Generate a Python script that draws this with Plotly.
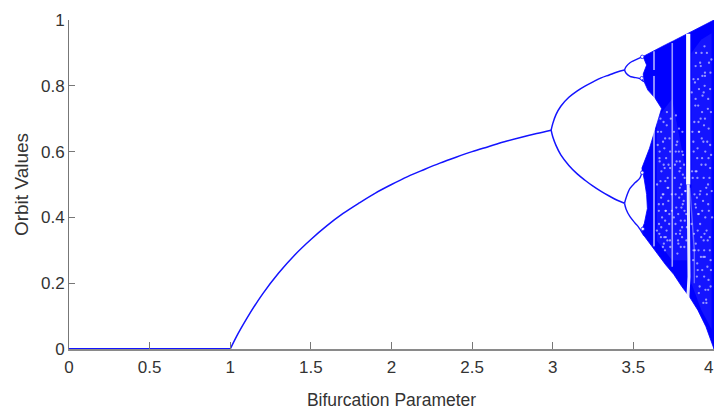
import plotly.graph_objects as go

# Stable branch
zero_r = [0, 0.25, 0.5, 0.75, 1.0]
zero_v = [0, 0, 0, 0, 0]
main_r = [1.0, 1.05, 1.1, 1.2, 1.3, 1.4, 1.5, 1.6, 1.7, 1.8, 1.9, 2.0, 2.1, 2.2, 2.3, 2.4, 2.5, 2.6, 2.7, 2.8, 2.9, 2.99]
main_v = [0.0, 0.048, 0.091, 0.167, 0.231, 0.286, 0.333, 0.375, 0.412, 0.444, 0.474, 0.5, 0.524, 0.545, 0.565, 0.583, 0.6, 0.615, 0.63, 0.643, 0.655, 0.665]

# Period-2 branches
p2_r = [2.99, 3.0, 3.02, 3.05, 3.1, 3.15, 3.2, 3.25, 3.3, 3.35, 3.4, 3.445]
p2_hi = [0.665, 0.685, 0.7125, 0.738, 0.765, 0.784, 0.799, 0.812, 0.824, 0.833, 0.842, 0.848]
p2_lo = [0.665, 0.645, 0.619, 0.59, 0.558, 0.533, 0.513, 0.495, 0.479, 0.465, 0.452, 0.443]

# Period-4 loops
p4a_r = [3.445, 3.455, 3.479, 3.5, 3.54, 3.56]
p4a_v = [0.848, 0.858, 0.87, 0.876, 0.885, 0.889]
p4b_r = [3.445, 3.455, 3.479, 3.5, 3.54, 3.565]
p4b_v = [0.848, 0.838, 0.829, 0.826, 0.822, 0.812]
p4c_r = [3.445, 3.455, 3.479, 3.51, 3.541, 3.56]
p4c_v = [0.443, 0.46, 0.488, 0.505, 0.52, 0.551]
p4d_r = [3.445, 3.455, 3.479, 3.51, 3.53, 3.565]
p4d_v = [0.443, 0.425, 0.402, 0.383, 0.372, 0.345]

# Small period-8 bubbles on the edge of the chaotic region
bubble_r = [3.555, 3.552, 3.555, 3.558]
bubble_v = [0.888, 0.823, 0.536, 0.365]

# Outline of the filled chaotic region
chaos_r = [3.56, 3.6, 3.65, 3.7, 3.75, 3.8, 3.85, 3.9, 3.95, 4.0, 4.0, 3.97, 3.95, 3.9, 3.85, 3.8, 3.75, 3.7, 3.65, 3.6, 3.565,
           3.552, 3.568, 3.587, 3.582, 3.568, 3.553, 3.6, 3.675, 3.634, 3.59, 3.567, 3.561, 3.582, 3.56]
chaos_v = [0.889, 0.9, 0.912, 0.925, 0.937, 0.95, 0.962, 0.975, 0.987, 1.0, 0.0, 0.04, 0.068, 0.118, 0.157, 0.19, 0.227, 0.256, 0.29, 0.324, 0.345,
           0.362, 0.382, 0.427, 0.47, 0.514, 0.55, 0.61, 0.731, 0.763, 0.787, 0.812, 0.836, 0.863, 0.889]

# Lighter, speckled areas
hazeA_r = [3.645, 3.74, 3.835, 3.835, 3.74, 3.645]
hazeA_v = [0.70, 0.76, 0.52, 0.27, 0.27, 0.33]
hazeB_r = [3.86, 3.92, 3.985, 3.985, 3.92, 3.86]
hazeB_v = [0.9, 0.94, 0.96, 0.06, 0.12, 0.2]

# White periodic windows
win1a_r = [3.628, 3.628]
win1a_v = [0.905, 0.848]
win1b_r = [3.628, 3.628]
win1b_v = [0.83, 0.312]
win2_r = [3.741, 3.741]
win2_v = [0.93, 0.25]
win3a_r = [3.84, 3.84]
win3a_v = [0.958, 0.5]
win3b_r = [3.84, 3.845, 3.845, 3.838]
win3b_v = [0.5, 0.35, 0.22, 0.157]
win3c_r = [3.85, 3.865, 3.878, 3.878]
win3c_v = [0.49, 0.39, 0.3, 0.2]

# Individual white specks
speck_r = [3.652, 3.663, 3.668, 3.684, 3.687, 3.703, 3.708, 3.724, 3.728, 3.764, 3.767, 3.783, 3.788, 3.803, 3.807, 3.823, 3.647, 3.674, 3.686, 3.713, 3.717,
           3.757, 3.784, 3.796, 3.817, 3.658, 3.684, 3.697, 3.723, 3.766, 3.794, 3.806, 3.832, 3.646, 3.673, 3.692, 3.706, 3.764, 3.777, 3.802, 3.816, 3.683, 3.696, 3.727,
           3.773, 3.794, 3.663, 3.694, 3.716, 3.763, 3.804, 3.672, 3.697, 3.786, 3.814,
           3.873, 3.884, 3.886, 3.904, 3.907, 3.924, 3.926, 3.944, 3.946, 3.964, 3.967, 3.984, 3.866, 3.896, 3.906, 3.936, 3.944, 3.976, 3.874, 3.897, 3.926, 3.934, 3.963,
           3.976, 3.864, 3.894, 3.916, 3.927, 3.956, 3.964, 3.884, 3.906, 3.914, 3.946, 3.954, 3.986, 3.876, 3.887, 3.904, 3.936, 3.943, 3.974, 3.873, 3.896, 3.927, 3.934,
           3.966, 3.974, 3.886, 3.914, 3.936, 3.944, 3.976, 3.894, 3.923, 3.947, 3.956, 3.906, 3.934, 3.953, 3.964, 3.886, 3.917, 3.966,
           3.651, 3.668, 3.672, 3.688, 3.692, 3.707, 3.712, 3.728, 3.732, 3.752, 3.768, 3.772, 3.788, 3.792, 3.808, 3.812, 3.828,
           3.658, 3.662, 3.678, 3.682, 3.698, 3.702, 3.718, 3.722, 3.738, 3.758, 3.762, 3.778, 3.782, 3.798, 3.802, 3.818, 3.822,
           3.659, 3.671, 3.699, 3.711, 3.739, 3.761, 3.789, 3.801, 3.829, 3.661, 3.689, 3.701, 3.729, 3.751, 3.779, 3.791, 3.819,
           3.862, 3.878, 3.882, 3.898, 3.902, 3.918, 3.922, 3.938, 3.942, 3.958, 3.962, 3.978, 3.982,
           3.868, 3.872, 3.888, 3.892, 3.908, 3.912, 3.928, 3.932, 3.948, 3.952, 3.968, 3.972, 3.988,
           3.861, 3.879, 3.881, 3.899, 3.901, 3.919, 3.921, 3.939, 3.941, 3.959, 3.961, 3.979, 3.981,
           3.871, 3.899, 3.911, 3.939, 3.951, 3.979, 3.889, 3.901, 3.929, 3.941, 3.969, 3.981]
speck_v = [0.66, 0.6, 0.7, 0.63, 0.69, 0.58, 0.72, 0.64, 0.55, 0.71, 0.62, 0.67, 0.57, 0.6, 0.53, 0.48, 0.5, 0.54, 0.47, 0.52, 0.45,
           0.52, 0.46, 0.5, 0.42, 0.42, 0.44, 0.39, 0.41, 0.43, 0.39, 0.44, 0.37, 0.36, 0.37, 0.34, 0.36, 0.35, 0.33, 0.37, 0.31, 0.31, 0.3, 0.33,
           0.29, 0.31, 0.57, 0.55, 0.49, 0.6, 0.66, 0.46, 0.64, 0.54, 0.56,
           0.82, 0.74, 0.86, 0.69, 0.79, 0.64, 0.72, 0.84, 0.6, 0.76, 0.67, 0.88, 0.66, 0.58, 0.66, 0.52, 0.7, 0.55, 0.6, 0.52, 0.58, 0.63, 0.5,
           0.62, 0.54, 0.46, 0.48, 0.42, 0.47, 0.44, 0.44, 0.41, 0.38, 0.4, 0.36, 0.48, 0.35, 0.32, 0.3, 0.33, 0.28, 0.34, 0.3, 0.26, 0.24, 0.28,
           0.21, 0.3, 0.76, 0.87, 0.78, 0.83, 0.79, 0.22, 0.9, 0.18, 0.9, 0.17, 0.14, 0.14, 0.18, 0.54, 0.7, 0.58,
           0.62, 0.51, 0.66, 0.56, 0.61, 0.68, 0.49, 0.6, 0.7, 0.66, 0.57, 0.63, 0.49, 0.55, 0.59, 0.45, 0.41,
           0.44, 0.58, 0.4, 0.47, 0.51, 0.42, 0.56, 0.38, 0.47, 0.56, 0.47, 0.41, 0.6, 0.43, 0.34, 0.52, 0.48,
           0.38, 0.34, 0.42, 0.33, 0.42, 0.38, 0.35, 0.47, 0.33, 0.35, 0.32, 0.34, 0.31, 0.4, 0.32, 0.36, 0.39,
           0.78, 0.69, 0.81, 0.61, 0.74, 0.86, 0.56, 0.68, 0.8, 0.63, 0.73, 0.84, 0.59,
           0.52, 0.63, 0.43, 0.54, 0.66, 0.47, 0.83, 0.45, 0.56, 0.49, 0.42, 0.52, 0.4,
           0.38, 0.47, 0.3, 0.36, 0.41, 0.28, 0.34, 0.3, 0.35, 0.25, 0.33, 0.27, 0.24,
           0.27, 0.24, 0.19, 0.22, 0.15, 0.19, 0.9, 0.82, 0.77, 0.92, 0.87, 0.72]

x_ticks = [0, 0.5, 1, 1.5, 2, 2.5, 3, 3.5, 4]
x_tick_labels = ["0", "0.5", "1", "1.5", "2", "2.5", "3", "3.5", ""]
last_x_label = "4"
y_ticks = [0, 0.2, 0.4, 0.6, 0.8, 1]
y_tick_labels = ["0", "0.2", "0.4", "0.6", "0.8", "1"]

BLUE = "#1414ff"
fig = go.Figure()


def curve(x, y, w=1.5, color=BLUE, shape="spline"):
    fig.add_trace(go.Scatter(x=x, y=y, mode="lines", line=dict(color=color, width=w, shape=shape),
                             hoverinfo="skip", showlegend=False, cliponaxis=False))


curve(zero_r, zero_v, 2, shape="linear")
curve(main_r, main_v)
curve(p2_r, p2_hi)
curve(p2_r, p2_lo)
for rr, vv in [(p4a_r, p4a_v), (p4b_r, p4b_v), (p4c_r, p4c_v), (p4d_r, p4d_v)]:
    curve(rr, vv, 1.4)

fig.add_trace(go.Scatter(x=chaos_r, y=chaos_v, mode="lines", fill="toself", fillcolor="#0000ff",
                         line=dict(color="#0000ff", width=0.8), hoverinfo="skip", showlegend=False, cliponaxis=False))
for rr, vv in [(hazeA_r, hazeA_v), (hazeB_r, hazeB_v)]:
    fig.add_trace(go.Scatter(x=rr, y=vv, mode="none", fill="toself", fillcolor="rgba(255,255,255,0.08)",
                             hoverinfo="skip", showlegend=False))
fig.add_trace(go.Scatter(x=speck_r, y=speck_v, mode="markers",
                         marker=dict(color="rgba(255,255,255,0.55)", size=2.3, line=dict(width=0)),
                         hoverinfo="skip", showlegend=False))
fig.add_trace(go.Scatter(x=bubble_r, y=bubble_v, mode="markers",
                         marker=dict(color="white", size=3.5, line=dict(width=0.8, color=BLUE)),
                         hoverinfo="skip", showlegend=False))
curve(win1a_r, win1a_v, 2, "rgba(255,255,255,0.55)", "linear")
curve(win1b_r, win1b_v, 2, "rgba(255,255,255,0.55)", "linear")
curve(win2_r, win2_v, 1.6, "rgba(255,255,255,0.6)", "linear")
curve(win3a_r, win3a_v, 4.2, "#ffffff", "linear")
curve(win3b_r, win3b_v, 3, "rgba(255,255,255,0.9)", "linear")
curve(win3c_r, win3c_v, 1.4, "rgba(255,255,255,0.35)", "linear")

tick_font = dict(family="Liberation Sans, Arial, sans-serif", size=17, color="#333333")
x_title_font = dict(family="Liberation Sans, Arial, sans-serif", size=17.5, color="#333333")
y_title_font = dict(family="Liberation Sans, Arial, sans-serif", size=19, color="#333333")
fig.update_xaxes(range=[0, 4], tickvals=x_ticks, ticktext=x_tick_labels, ticks="inside", ticklen=7,
                 tickcolor="#777777", tickwidth=1, showgrid=False, zeroline=False, showline=True,
                 linecolor="#8a8a8a", linewidth=1.5, tickfont=tick_font, ticklabelstandoff=2,
                 title=dict(text="Bifurcation Parameter", font=x_title_font, standoff=20))
fig.update_yaxes(range=[0, 1], tickvals=y_ticks, ticktext=y_tick_labels, ticks="inside", ticklen=6,
                 tickcolor="#777777", tickwidth=1, showgrid=False, zeroline=False, showline=True,
                 linecolor="#777777", linewidth=1, tickfont=tick_font,
                 title=dict(text="Orbit Values", font=y_title_font, standoff=7))
fig.add_annotation(x=4, y=0, xref="x", yref="paper", text=last_x_label, showarrow=False,
                   xanchor="right", yanchor="top", yshift=-7, xshift=1, font=tick_font)
fig.update_layout(width=715, height=410, autosize=False, margin=dict(l=69, r=1, t=20, b=61),
                  paper_bgcolor="white", plot_bgcolor="white", showlegend=False)
fig.write_html("out.html", config={"displayModeBar": False},
               post_script="document.body.style.margin='0';document.body.style.overflow='hidden';")
